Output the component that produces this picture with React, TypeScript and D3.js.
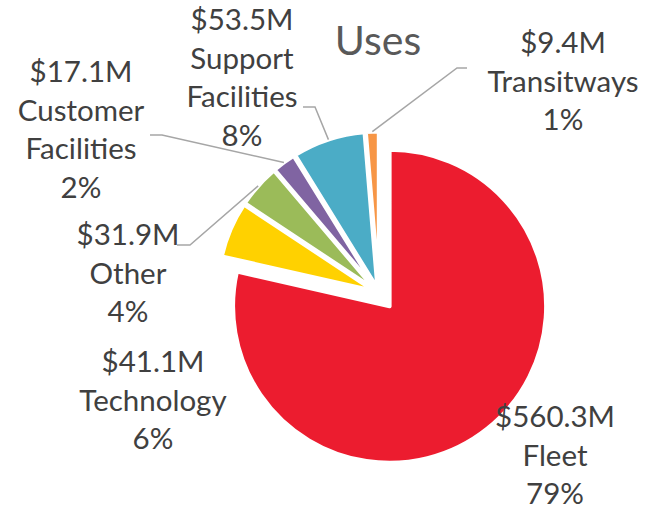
import React from 'react';
import * as d3 from 'd3';

// ---- data ----
const categories = ['Fleet', 'Technology', 'Other', 'Customer Facilities', 'Support Facilities', 'Transitways'];
const valuesM = [560.3, 41.1, 31.9, 17.1, 53.5, 9.4];
const labelNames = [['Fleet'], ['Technology'], ['Other'], ['Customer', 'Facilities'], ['Support', 'Facilities'], ['Transitways']];
const title = 'Uses';

// ---- styles / layout ----
const colors = ['#EC1C2F', '#FFD100', '#9BBB59', '#8064A2', '#4BACC6', '#F79646'];
const explode = [17, 5, 5, 5, 5, 5];
const W = 648, H = 511;
const CX = 379, CY = 293, R = 156.5;
const FONT = "Lato, 'Open Sans', sans-serif";
const FS = 29.5;
const LH = 38.5;
// label anchor: centre x, first baseline y; leader elbow + end (or null)
const labelPos: [number, number][] = [[555, 427], [153, 372], [128, 245], [81, 82], [242, 30], [563, 53]];
const leaderPts: ([number, number][] | null)[] = [
  null,
  null,
  [[190, 245], [177, 245]],
  [[162, 135], [150, 135]],
  [[315, 107], [303, 107]],
  [[457, 68], [467, 68]],
];

export default function App() {
  const total = d3.sum(valuesM);
  const pie = d3.pie<number>().sort(null).value((d) => d);
  const arcs = pie(valuesM);
  const arcGen = d3.arc<d3.PieArcDatum<number>>().innerRadius(0).outerRadius(R);
  const fmtMoney = (v: number) => `$${d3.format('.1f')(v)}M`;
  const fmtPct = (v: number) => `${Math.round((v / total) * 100)}%`;

  return (
    <svg width={W} height={H} style={{ position: 'absolute', left: 0, top: 0, background: '#fff' }}>
      <rect width={W} height={H} fill="#fff" />
      <text x={378} y={55} textAnchor="middle" fontFamily={FONT} fontSize={41} fill="#595959">
        {title}
      </text>
      <g>
        {arcs.map((a, i) => {
          const mid = (a.startAngle + a.endAngle) / 2;
          const dx = Math.sin(mid) * explode[i];
          const dy = -Math.cos(mid) * explode[i];
          return (
            <path
              key={categories[i]}
              d={arcGen(a) || ''}
              transform={`translate(${CX + dx},${CY + dy})`}
              fill={colors[i]}
              stroke="#fff"
              strokeWidth={4}
              strokeLinejoin="round"
            />
          );
        })}
      </g>
      <g fill="none" stroke="#A6A6A6" strokeWidth={1.5}>
        {arcs.map((a, i) => {
          const pts = leaderPts[i];
          if (!pts) return null;
          const mid = (a.startAngle + a.endAngle) / 2;
          const sx = CX + Math.sin(mid) * (explode[i] + R);
          const sy = CY - Math.cos(mid) * (explode[i] + R);
          const line = d3.line()([[sx, sy], ...pts]);
          return <path key={categories[i]} d={line || ''} />;
        })}
      </g>
      <g fontFamily={FONT} fontSize={FS} fill="#404040" textAnchor="middle">
        {arcs.map((a, i) => {
          const lines = [fmtMoney(valuesM[i]), ...labelNames[i], fmtPct(valuesM[i])];
          const [lx, ly] = labelPos[i];
          return (
            <text key={categories[i]} x={lx} y={ly}>
              {lines.map((t, j) => (
                <tspan key={j} x={lx} y={ly + j * LH}>
                  {t}
                </tspan>
              ))}
            </text>
          );
        })}
      </g>
    </svg>
  );
}
